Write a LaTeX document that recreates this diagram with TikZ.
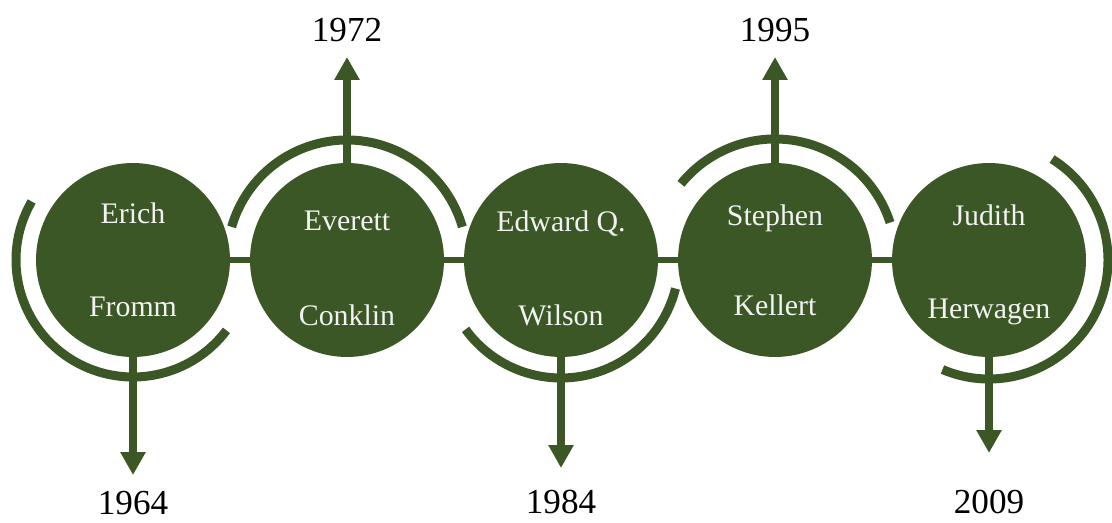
\documentclass[tikz,border=0pt]{standalone}
\usepackage{fontspec}
\setmainfont{Liberation Serif}
\usetikzlibrary{arrows.meta}
\definecolor{leaf}{RGB}{59,87,37}
\tikzset{
  person/.style={circle, fill=leaf, minimum size=3.88cm, inner sep=0pt},
  who/.style={text=white!95!black, font=\fontsize{17}{20}\selectfont, text height=1.5ex, text depth=.25ex},
  when/.style={font=\fontsize{20}{24}\selectfont, inner sep=0pt},
  link/.style={leaf, line width=0.12cm},
  ring/.style={leaf, line width=0.18cm},
  pointer/.style={leaf, line width=0.16cm, -{Triangle[width=0.48cm,length=0.46cm]}}
}
\begin{document}
\begin{tikzpicture}[x=0.02cm,y=0.02cm]
\useasboundingbox (0,-263) rectangle (1112,260);
% circles
\node[person] (erich) at (133,0) {};
\node[person] (everett) at (347,0) {};
\node[person] (edward) at (561,0) {};
\node[person] (stephen) at (775,0) {};
\node[person] (judith) at (989,0) {};
% names
\node[who] (erichA) at (133,42) {Erich};
\node[who] (erichB) at (133,-51) {Fromm};
\node[who] (everettA) at (347,35) {Everett};
\node[who] (everettB) at (347,-60) {Conklin};
\node[who] (edwardA) at (561,34) {Edward Q.};
\node[who] (edwardB) at (561,-60) {Wilson};
\node[who] (stephenA) at (775,40) {Stephen};
\node[who] (stephenB) at (775,-50) {Kellert};
\node[who] (judithA) at (989,40) {Judith};
\node[who] (judithB) at (989,-53) {Herwagen};
% links
\draw[link] (erich) -- (everett);
\draw[link] (everett) -- (edward);
\draw[link] (edward) -- (stephen);
\draw[link] (stephen) -- (judith);
% rings
\draw[ring] (erich.center) ++(150:117) arc[start angle=150, end angle=323, radius=117];
\draw[ring] (everett.center) ++(16:120) arc[start angle=16, end angle=164, radius=120];
\draw[ring] (edward.center) ++(216:118) arc[start angle=216, end angle=346, radius=118];
\draw[ring] (stephen.center) ++(18:121) arc[start angle=18, end angle=141, radius=121];
\draw[ring] (judith.center) ++(-113:119) arc[start angle=-113, end angle=58, radius=119];
% years
\coordinate (t1964) at (133,-215);
\coordinate (t1972) at (347,203);
\coordinate (t1984) at (561,-208);
\coordinate (t1995) at (775,203);
\coordinate (t2009) at (989,-193);
\draw[pointer] (erich) -- (t1964);
\draw[pointer] (everett) -- (t1972);
\draw[pointer] (edward) -- (t1984);
\draw[pointer] (stephen) -- (t1995);
\draw[pointer] (judith) -- (t2009);
\node[when] (y1964) at (133,-243) {1964};
\node[when] (y1972) at (347,230) {1972};
\node[when] (y1984) at (561,-242) {1984};
\node[when] (y1995) at (775,230) {1995};
\node[when] (y2009) at (989,-242) {2009};
\end{tikzpicture}
\end{document}
